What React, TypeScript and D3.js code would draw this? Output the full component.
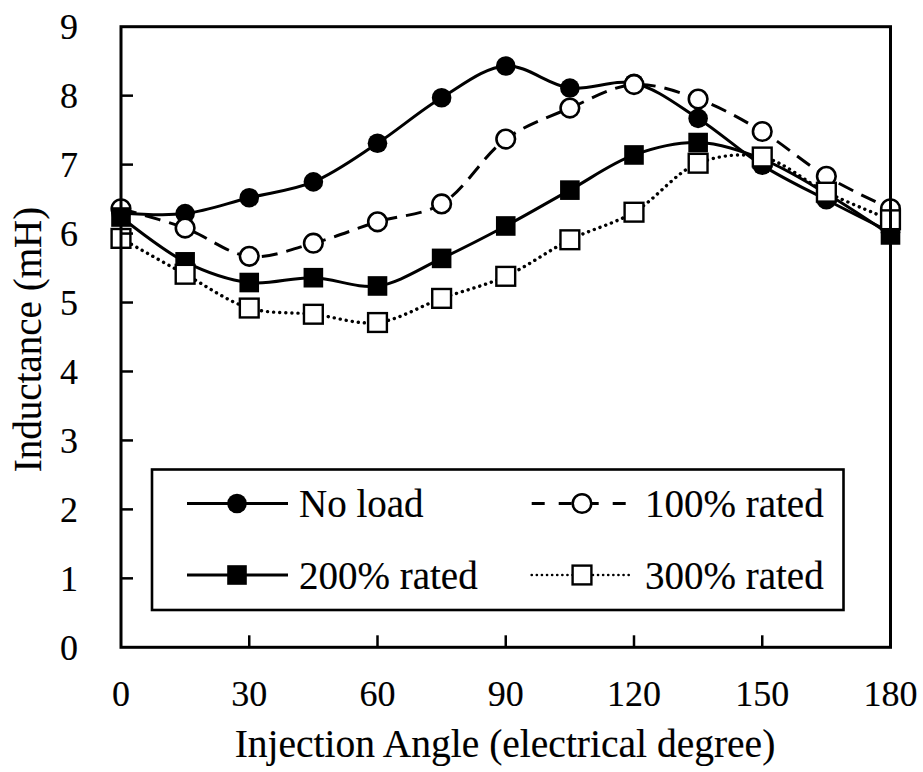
import React from "react";
import * as d3 from "d3";

// Injection angle in electrical degrees
const angles = [0, 15, 30, 45, 60, 75, 90, 105, 120, 135, 150, 165, 180];

// Inductance (mH) for each load condition
const noLoad = [6.3, 6.29, 6.52, 6.75, 7.31, 7.97, 8.43, 8.11, 8.18, 7.67, 6.99, 6.49, 6.02];
const rated100 = [6.36, 6.08, 5.67, 5.86, 6.17, 6.43, 7.37, 7.82, 8.16, 7.95, 7.48, 6.83, 6.36];
const rated200 = [6.24, 5.59, 5.29, 5.36, 5.24, 5.64, 6.11, 6.63, 7.14, 7.32, 7.08, 6.58, 5.98];
const rated300 = [5.93, 5.41, 4.92, 4.83, 4.71, 5.06, 5.38, 5.91, 6.31, 7.02, 7.11, 6.6, 6.2];

const xTicks = [0, 30, 60, 90, 120, 150, 180];
const yTicks = [0, 1, 2, 3, 4, 5, 6, 7, 8, 9];

type Marker = "filledCircle" | "openCircle" | "filledSquare" | "openSquare";

const series: { name: string; values: number[]; marker: Marker; dash: string | null; dotted: boolean }[] = [
  { name: "No load", values: noLoad, marker: "filledCircle", dash: null, dotted: false },
  { name: "100% rated", values: rated100, marker: "openCircle", dash: "16,9", dotted: false },
  { name: "200% rated", values: rated200, marker: "filledSquare", dash: null, dotted: false },
  { name: "300% rated", values: rated300, marker: "openSquare", dash: null, dotted: true },
];

const FONT = "'Liberation Serif', 'Times New Roman', serif";
const TEXT_STROKE = 0.15;

function MarkerShape({ type, cx, cy }: { type: Marker; cx: number; cy: number }) {
  if (type === "filledCircle") return <circle cx={cx} cy={cy} r={9.8} fill="#000" />;
  if (type === "openCircle")
    return <circle cx={cx} cy={cy} r={9.3} fill="#fff" stroke="#000" strokeWidth={2.6} />;
  if (type === "filledSquare") return <rect x={cx - 9.8} y={cy - 9.8} width={19.6} height={19.6} fill="#000" />;
  return (
    <rect x={cx - 9.4} y={cy - 9.4} width={18.8} height={18.8} fill="#fff" stroke="#000" strokeWidth={2.4} />
  );
}

export default function App() {
  const width = 923;
  const height = 772;
  const left = 121;
  const right = 890.5;
  const top = 26.7;
  const bottom = 647.3;

  const x = d3.scaleLinear().domain([0, 180]).range([left, right]);
  const y = d3.scaleLinear().domain([0, 9]).range([bottom, top]);

  const line = d3
    .line<number>()
    .x((_, i) => x(angles[i]))
    .y((v) => y(v))
    .curve(d3.curveCatmullRom.alpha(0.5));

  const lineStyle = (s: (typeof series)[number]) =>
    s.dotted
      ? { strokeWidth: 3.4, strokeDasharray: "0.1,6", strokeLinecap: "round" as const }
      : { strokeWidth: 3, strokeDasharray: s.dash ?? undefined, strokeLinecap: "butt" as const };

  // legend layout
  const legend = { x0: 152, y0: 469.5, x1: 843.5, y1: 610 };
  const legendItems = [
    { s: series[0], lx0: 187, lx1: 288, mx: 237, cy: 503.5, tx: 299 },
    { s: series[1], lx0: 531.7, lx1: 626, mx: 582, cy: 503.5, tx: 645 },
    { s: series[2], lx0: 187, lx1: 288, mx: 237, cy: 575, tx: 299 },
    { s: series[3], lx0: 531.7, lx1: 632, mx: 582, cy: 575, tx: 645 },
  ];

  const textProps = { fill: "#000", stroke: "#000", strokeWidth: TEXT_STROKE };

  return (
    <svg
      width={width}
      height={height}
      style={{ position: "absolute", left: 0, top: 0, background: "#fff" }}
      fontFamily={FONT}
    >
      <rect x={0} y={0} width={width} height={height} fill="#fff" />

      {/* series lines */}
      {series.map((s) => {
        const st = lineStyle(s);
        return (
          <path
            key={s.name + "-line"}
            d={line(s.values) ?? ""}
            fill="none"
            stroke="#000"
            strokeWidth={st.strokeWidth}
            strokeDasharray={st.strokeDasharray}
            strokeLinecap={st.strokeLinecap}
          />
        );
      })}

      {/* series markers */}
      {series.map((s) => (
        <g key={s.name + "-markers"}>
          {s.values.map((v, i) => (
            <MarkerShape key={i} type={s.marker} cx={x(angles[i])} cy={y(v)} />
          ))}
        </g>
      ))}

      {/* plot frame */}
      <rect x={left} y={top} width={right - left} height={bottom - top} fill="none" stroke="#000" strokeWidth={3} />

      {/* y ticks and labels */}
      {yTicks.map((t) => (
        <g key={"y" + t}>
          {t > 0 && t < 9 && <line x1={left} x2={left + 12} y1={y(t)} y2={y(t)} stroke="#000" strokeWidth={2.5} />}
          <text x={78} y={y(t)} dy="0.34em" textAnchor="end" fontSize={36} {...textProps}>
            {t}
          </text>
        </g>
      ))}

      {/* x ticks and labels */}
      {xTicks.map((t) => (
        <g key={"x" + t}>
          {t > 0 && t < 180 && <line x1={x(t)} x2={x(t)} y1={bottom} y2={bottom - 12} stroke="#000" strokeWidth={2.5} />}
          <text x={x(t)} y={706} textAnchor="middle" fontSize={36} {...textProps}>
            {t}
          </text>
        </g>
      ))}

      {/* axis titles */}
      <text x={505} y={757} textAnchor="middle" fontSize={39.5} {...textProps}>
        Injection Angle (electrical degree)
      </text>
      <text transform={`translate(41, 339.5) rotate(-90)`} textAnchor="middle" fontSize={39} {...textProps}>
        Inductance (mH)
      </text>

      {/* legend */}
      <rect
        x={legend.x0}
        y={legend.y0}
        width={legend.x1 - legend.x0}
        height={legend.y1 - legend.y0}
        fill="#fff"
        stroke="#000"
        strokeWidth={2.6}
      />
      {legendItems.map((it) => {
        const st = it.s.dotted
          ? { strokeWidth: 2.6, strokeDasharray: "0.1,5", strokeLinecap: "round" as const }
          : it.s.dash
          ? { strokeWidth: 3, strokeDasharray: "13,14", strokeLinecap: "butt" as const }
          : { strokeWidth: 3, strokeDasharray: undefined, strokeLinecap: "butt" as const };
        return (
          <g key={it.s.name + "-legend"}>
            <line
              x1={it.lx0}
              x2={it.lx1}
              y1={it.cy}
              y2={it.cy}
              stroke="#000"
              strokeWidth={st.strokeWidth}
              strokeDasharray={st.strokeDasharray}
              strokeLinecap={st.strokeLinecap}
            />
            <MarkerShape type={it.s.marker} cx={it.mx} cy={it.cy} />
            <text x={it.tx} y={it.cy + 13.5} fontSize={39} {...textProps}>
              {it.s.name}
            </text>
          </g>
        );
      })}
    </svg>
  );
}
